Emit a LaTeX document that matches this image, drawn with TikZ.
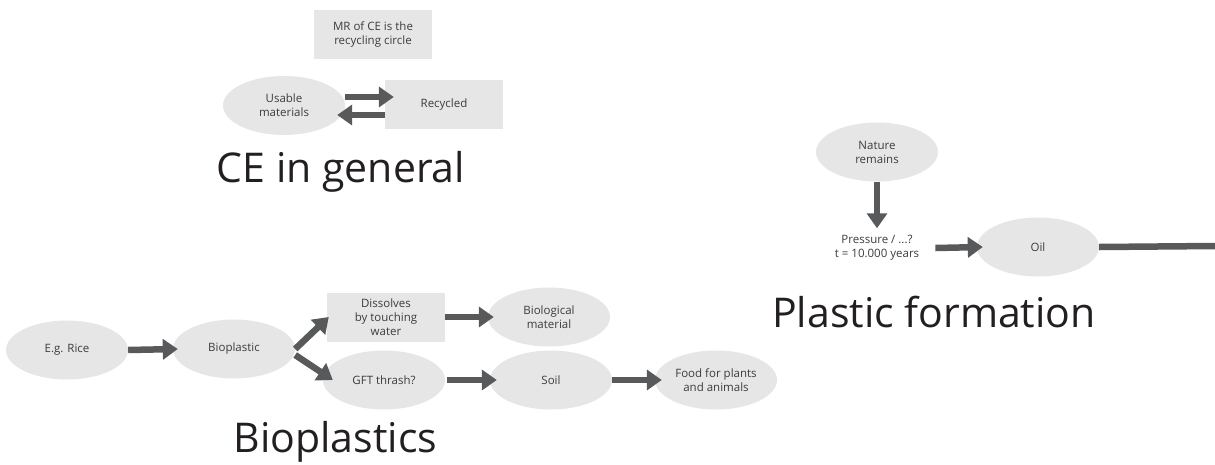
\documentclass[tikz,border=0pt]{standalone}
\usepackage{fontspec}
\setmainfont{Open Sans}
\usetikzlibrary{shapes.geometric,arrows.meta,calc}
\definecolor{boxgray}{HTML}{E6E6E6}
\definecolor{arrgray}{HTML}{58595B}
\definecolor{txtgray}{HTML}{3C3C3C}
\definecolor{ttlgray}{HTML}{231F20}
\begin{document}
\begin{tikzpicture}[x=1pt,y=-1pt,
  smallfont/.style={font=\fontsize{11.5}{14}\selectfont},
  base/.style={smallfont, fill=boxgray, text=txtgray, align=center, inner sep=0pt},
  oval/.style={base, ellipse, minimum width=122pt, minimum height=59pt},
  box/.style={base, rectangle, minimum width=118pt, minimum height=49pt},
  plain/.style={smallfont, text=txtgray, align=center, inner sep=0pt},
  title/.style={text=ttlgray, font=\fontsize{41}{48}\selectfont, anchor=base, inner sep=0pt},
  arr/.style={draw=arrgray, line width=6.5pt, -{Triangle[length=15pt,width=20pt]}},
  bar/.style={draw=arrgray, line width=6.5pt}
]
\useasboundingbox (0,0) rectangle (1215,464);

% CE in general
\node[box]  (mr)       at (373,34.5)  {MR of CE is the\\recycling circle};
\node[oval] (usable)   at (284,105.5) {Usable\\materials};
\node[box]  (recycled) at (444,104.5) {Recycled};
\node[title] (t1) at (341,182) {CE in general};
\draw[arr] ([yshift=8.5pt]usable.east) -- ([xshift=9pt,yshift=7.5pt]recycled.west);
\draw[arr] ([yshift=-10.5pt]recycled.west) -- ([xshift=-8pt,yshift=-9.5pt]usable.east);

% Bioplastics
\node[oval] (rice)     at (67,350)  {E.g. Rice};
\node[oval] (bio)      at (234,349) {Bioplastic};
\node[box]  (dissolve) at (386,317) {Dissolves\\by touching\\water};
\node[oval] (biomat)   at (549,317) {Biological\\material};
\node[oval] (gft)      at (384,380) {GFT thrash?};
\node[oval] (soil)     at (551,380) {Soil};
\node[oval] (food)     at (716,380) {Food for plants\\and animals};
\node[title] (t2) at (335.5,452) {Bioplastics};
\draw[arr] (rice.east) -- ([xshift=5pt]bio.west);
\draw[arr] (bio.east) -- ([xshift=2pt]dissolve.west);
\draw[arr] ([yshift=-6pt]bio.east) -- ([xshift=10pt]gft.west);
\draw[arr] (dissolve.east) -- ([xshift=6pt]biomat.west);
\draw[arr] ([xshift=2pt]gft.east) -- ([xshift=7pt]soil.west);
\draw[arr] (soil.east) -- ([xshift=7pt]food.west);

% Plastic formation
\node[oval]  (nature)   at (877,152) {Nature\\remains};
\node[plain] (pressure) at (877,248) {Pressure / ...?\\t = 10.000 years};
\node[oval]  (oil)      at (1038,247) {Oil};
\node[title] (t3) at (934,327) {Plastic formation};
\coordinate (edge) at (1215,246);
\draw[arr] (nature.south) -- ([yshift=7pt]pressure.north);
\draw[arr] ([xshift=16pt]pressure.east) -- ([xshift=6pt]oil.west);
\draw[bar] (oil.east) -- (edge);
\end{tikzpicture}
\end{document}
